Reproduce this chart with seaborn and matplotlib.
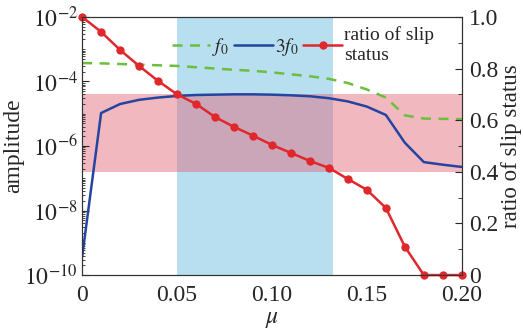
import numpy as np
import pandas as pd
import seaborn as sns
import matplotlib.pyplot as plt
from matplotlib.ticker import LogLocator, FixedLocator, MultipleLocator, FixedFormatter, NullFormatter

# friction coefficient
mu = np.round(np.arange(0, 0.201, 0.01), 2)
# log10 amplitude of the f0 and 3f0 components
log_f0 = [-3.43, -3.44, -3.46, -3.48, -3.50, -3.52, -3.56, -3.60, -3.64, -3.67, -3.72,
          -3.78, -3.84, -3.92, -4.05, -4.25, -4.50, -5.05, -5.15, -5.16, -5.17]
log_3f0 = [-9.44, -4.98, -4.70, -4.57, -4.50, -4.45, -4.42, -4.41, -4.40, -4.40, -4.41,
           -4.43, -4.46, -4.52, -4.62, -4.78, -5.04, -5.90, -6.50, -6.58, -6.65]
# ratio of slip status
ratio = [1.0, 0.942, 0.872, 0.81, 0.752, 0.70, 0.663, 0.612, 0.574, 0.54, 0.504,
         0.473, 0.442, 0.415, 0.372, 0.33, 0.26, 0.11, 0.0, 0.0, 0.0]

# shaded regions
mu_band = (0.05, 0.132)
ratio_band = (0.4, 0.7)

df = pd.DataFrame({"mu": mu, "f0": 10.0 ** np.array(log_f0),
                   "f3": 10.0 ** np.array(log_3f0), "ratio": ratio})

sns.set_style("ticks")
plt.rcParams["font.family"] = ["Liberation Serif", "DejaVu Serif"]
plt.rcParams["mathtext.fontset"] = "stix"
plt.rcParams["axes.edgecolor"] = "#333333"

fig, ax = plt.subplots(figsize=(5.23, 3.31), dpi=100)
fig.subplots_adjust(left=0.157, right=0.883, bottom=0.169, top=0.949)

ax.set_yscale("log")
ax.set_ylim(1e-10, 1e-2)
ax.set_xlim(0, 0.20)

# shaded bands (ratio band converted to the log amplitude axis)
lo_dec, hi_dec = -10, -2
band_lo = 10.0 ** (lo_dec + ratio_band[0] * (hi_dec - lo_dec))
band_hi = 10.0 ** (lo_dec + ratio_band[1] * (hi_dec - lo_dec))
ax.axvspan(*mu_band, color="#b8dff0", lw=0, zorder=0)
ax.axhspan(band_lo, band_hi, color="#e36274", alpha=0.45, lw=0, zorder=0.5)

sns.lineplot(data=df, x="mu", y="f0", ax=ax, color="#6cbf3c", lw=1.8,
             linestyle=(0, (4, 3)), label="$f_0$", legend=False)
sns.lineplot(data=df, x="mu", y="f3", ax=ax, color="#2444a0", lw=1.8,
             label="$3f_0$", legend=False)

ax2 = ax.twinx()
sns.lineplot(data=df, x="mu", y="ratio", ax=ax2, color="#e0282c", lw=1.8,
             marker="o", markersize=6, markeredgewidth=0, label="ratio of slip\nstatus",
             legend=False, clip_on=False)
ax2.set_ylim(0, 1.0)

fs = 17
ax.set_xlabel("$\\mu$", fontsize=fs, labelpad=2)
ax.set_ylabel("amplitude", fontsize=fs, labelpad=0)
ax2.set_ylabel("ratio of slip status", fontsize=16.5, labelpad=2)

ax.set_xticks([0, 0.05, 0.10, 0.15, 0.20])
ax.set_xticklabels(["0", "0.05", "0.10", "0.15", "0.20"])
ax.yaxis.set_major_locator(FixedLocator([1e-10, 1e-8, 1e-6, 1e-4, 1e-2]))
ax.yaxis.set_major_formatter(FixedFormatter(["$10^{-10}$", "$10^{-8}$", "$10^{-6}$",
                                             "$10^{-4}$", "$10^{-2}$"]))
ax.yaxis.set_minor_locator(LogLocator(base=10, subs=np.arange(1, 10), numticks=100))
ax.yaxis.set_minor_formatter(NullFormatter())
ax.tick_params(axis="x", length=0, labelsize=fs, pad=7)
ax.tick_params(axis="y", which="major", direction="in", length=5, labelsize=fs, pad=3)
ax.tick_params(axis="y", which="minor", direction="in", length=2.5)

ax2.set_yticks([0, 0.2, 0.4, 0.6, 0.8, 1.0])
ax2.set_yticklabels(["0", "0.2", "0.4", "0.6", "0.8", "1.0"])
ax2.yaxis.set_minor_locator(MultipleLocator(0.1))
ax2.yaxis.set_minor_formatter(NullFormatter())
ax2.tick_params(axis="y", which="major", direction="in", length=5, labelsize=fs, pad=5)
ax2.tick_params(axis="y", which="minor", direction="in", length=3)

h1, l1 = ax.get_legend_handles_labels()
h2, l2 = ax2.get_legend_handles_labels()
ax2.legend(h1 + h2, l1 + l2, loc="upper left", bbox_to_anchor=(0.21, 1.0), ncol=3,
           frameon=False, fontsize=14, handlelength=2.0, handletextpad=0.1,
           columnspacing=0.25, borderaxespad=0.1, labelspacing=0.0)

fig.savefig("out.png", dpi=100)
